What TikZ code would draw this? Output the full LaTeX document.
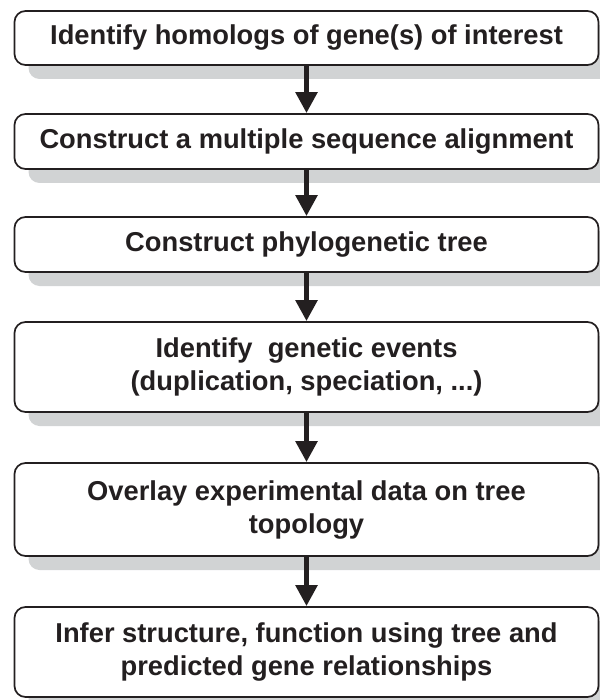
\documentclass[tikz,border=0pt]{standalone}
\usepackage{fontspec}
\setmainfont{Liberation Sans}
\usetikzlibrary{shadows,arrows.meta}
\definecolor{ink}{HTML}{231F20}
\definecolor{shade}{HTML}{D1D3D4}
\begin{document}
\begin{tikzpicture}[x=1pt,y=-1pt,
  stepbox/.style={draw=ink, line width=1.7pt, rounded corners=11pt, fill=white,
    minimum width=584pt, align=center, text=ink, inner sep=0pt,
    font=\bfseries\fontsize{27.3}{33}\selectfont,
    general shadow={fill=shade, draw=none, shadow xshift=14pt, shadow yshift=-14pt}},
  flow/.style={draw=ink, line width=5.5pt, -{Triangle[length=21pt,width=21pt]}}]
\useasboundingbox (0,0) rectangle (599,700);
\node[stepbox, minimum height=54pt] (b1) at (306.5,38) {Identify homologs of gene(s) of interest};
\node[stepbox, minimum height=55pt] (b2) at (306.5,141.5) {Construct a multiple sequence alignment};
\node[stepbox, minimum height=55pt] (b3) at (306.5,244.5) {Construct phylogenetic tree};
\node[stepbox, minimum height=90pt] (b4) at (306.5,367) {Identify\ \ genetic events\\(duplication, speciation, ...)};
\node[stepbox, minimum height=93pt] (b5) at (306.5,509.5) {Overlay experimental data on tree\\topology};
\node[stepbox, minimum height=90pt] (b6) at (306.5,652) {Infer structure, function using tree and\\predicted gene relationships};
\draw[flow] (b1) -- (b2);
\draw[flow] (b2) -- (b3);
\draw[flow] (b3) -- (b4);
\draw[flow] (b4) -- (b5);
\draw[flow] (b5) -- (b6);
\end{tikzpicture}
\end{document}
